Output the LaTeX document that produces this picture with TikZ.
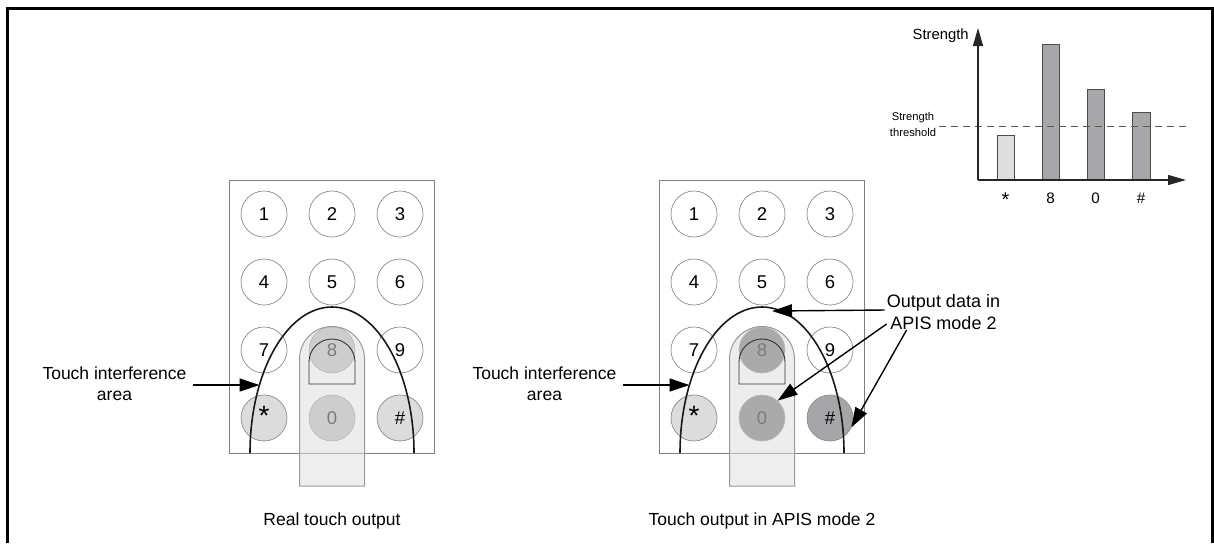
\documentclass[tikz,border=0pt]{standalone}
\usepackage{fontspec}
\setmainfont{Liberation Sans}
\usetikzlibrary{arrows.meta,calc}

% a larger asterisk for the star key
\newcommand\starkey{{\fontsize{14}{14}\selectfont *}}

% one keypad: #1 name prefix, #2 x offset, #3 fill of keys 8 and 0,
% #4 fill of key #, #5 left end of the interference arc
\newcommand\drawkeypad[5]{%
  \draw[pad] (#2+229,180) rectangle (#2+434,453);
  \foreach \k/\c/\r in {1/0/0,2/1/0,3/2/0,4/0/1,5/1/1,6/2/1,7/0/2,9/2/2}
    \node[key] (#1\k) at ({#2+264+68*\c},{214+68*\r}) {\k};
  \node[key,fill=#3] (#18) at (#2+332,350) {8};
  \node[key,fill=keystar] (#1star) at (#2+264,418) {};
  \node[inner sep=0pt] (#1startxt) at (#2+264,416) {\starkey};
  \node[key,fill=#3] (#10) at (#2+332,418) {0};
  \node[key,fill=#4] (#1hash) at (#2+400,418) {\#};
  % finger resting on the keys 8 and 0
  \draw[finger] (#2+299.5,486) -- (#2+299.5,359)
     arc[start angle=180,end angle=360,radius=32.5] -- (#2+364.5,486) -- cycle;
  \draw[nail] (#2+309,384) -- (#2+309,362)
     arc[start angle=180,end angle=360,radius=23] -- (#2+355,384) -- cycle;
  % interference area
  \draw[zone] (#5,453) arc[start angle=180,end angle=360,x radius=82,y radius=146];
}

\definecolor{keystar}{HTML}{DCDCDC}
\definecolor{keyunderL}{HTML}{B8B8B8}
\definecolor{keyunderR}{HTML}{6A6A6A}
\definecolor{keyhashR}{HTML}{A6A6A9}
\definecolor{barhigh}{HTML}{A7A7AA}
\definecolor{barlow}{HTML}{DEDEDE}

\begin{document}
\begin{tikzpicture}[x=0.5pt,y=-0.5pt,
  key/.style={circle,draw=black!45,line width=0.35pt,minimum size=23pt,
    inner sep=0pt,font=\fontsize{9.25}{11}\selectfont},
  pad/.style={draw=black!50,line width=0.45pt,fill=white},
  finger/.style={draw=black!40,line width=0.5pt,fill=black!12,fill opacity=0.55},
  nail/.style={draw=black!80,line width=0.45pt},
  zone/.style={draw=black!90,line width=0.8pt},
  ptr/.style={draw=black,line width=0.7pt,-{Triangle[length=10pt,width=6.5pt]}},
  lbl/.style={font=\fontsize{8.75}{10.5}\selectfont,align=center,inner sep=0pt},
  axis/.style={draw=black!85,line width=0.6pt,-{Triangle[length=9pt,width=5pt]}},
  bar/.style={draw=black!70,line width=0.4pt},
  thr/.style={draw=black!65,line width=0.5pt,dash pattern=on 3.5pt off 2.5pt},
  tick/.style={font=\fontsize{7.6}{9}\selectfont,inner sep=0pt,anchor=base},
]
\useasboundingbox (0,0) rectangle (1214,543);

% frame, open at the bottom
\draw[line width=1.75pt] (7.5,543) -- (7.5,8.5) -- (1212.5,8.5) -- (1212.5,543);

% left keypad: real touch output
\drawkeypad{L}{0}{keyunderL}{keystar}{250}
% right keypad: output in APIS mode 2
\drawkeypad{R}{430}{keyunderR}{keyhashR}{680}

% labels of the interference area
\node[lbl,anchor=north] (Lti) at (114.5,366) {Touch interference\\area};
\coordinate (Ltip) at (259.5,385);
\draw[ptr] ([xshift=3pt]Lti.east |- Ltip) -- (Ltip);

\node[lbl,anchor=north] (Rti) at (544.5,366) {Touch interference\\area};
\coordinate (Rtip) at (689.5,385);
\draw[ptr] ([xshift=3pt]Rti.east |- Rtip) -- (Rtip);

% output data pointers
\node[lbl,font=\fontsize{9}{11}\selectfont,anchor=north] (out) at (943.5,294)
  {Output data in\\APIS mode 2};
\coordinate (t8) at (772,311);
\draw[ptr] ($(out.west)+(-2,-2)$) -- (t8);
\draw[ptr] ($(out.west)+(0,12)$) -- (R0.48);
\draw[ptr] ($(out.south west)+(20,0)$) -- (Rhash.-24);

% captions
\node[lbl,anchor=base] (capL) at (332,525) {Real touch output};
\node[lbl,anchor=base] (capR) at (762,525) {Touch output in APIS mode 2};

% strength chart
\coordinate (O) at (978,180);
\coordinate (Ytop) at (978,28);
\coordinate (Xend) at (1186,180);
\draw[bar,fill=barlow]  (997,180) rectangle (1014,135);
\draw[bar,fill=barhigh] (1042,180) rectangle (1059,44);
\draw[bar,fill=barhigh] (1087,180) rectangle (1104,89);
\draw[bar,fill=barhigh] (1132,180) rectangle (1150,112);
\draw[thr] (939,126) -- (1187,126);
\draw[axis] (O) -- (Ytop);
\draw[axis] (O) -- (Xend);
\node[font=\fontsize{7.4}{9}\selectfont,inner sep=0pt,anchor=base east] (ylab) at (969,39) {Strength};
\node[font=\fontsize{5.6}{8}\selectfont,align=center,inner sep=0pt,anchor=north] (thl) at (913,112)
  {Strength\\threshold};
\node[tick,font=\fontsize{10}{10}\selectfont] (xs) at (1005.5,206) {*};
\node[tick] (x8) at (1050.5,203) {8};
\node[tick] (x0) at (1095.5,203) {0};
\node[tick] (xh) at (1141,203) {\#};
\end{tikzpicture}
\end{document}
